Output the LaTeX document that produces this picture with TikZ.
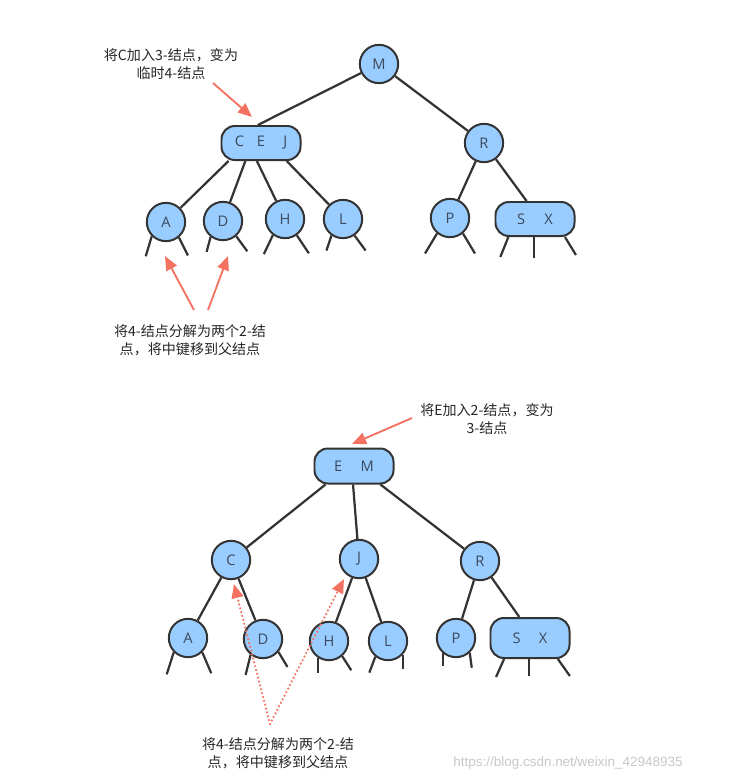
\documentclass[tikz,border=0pt]{standalone}
\usepackage{fontspec}
\setmainfont{Open Sans}
\newfontfamily\cjk{Noto Sans CJK SC}
\newfontfamily\wmfont{Liberation Sans}
\usetikzlibrary{arrows.meta}
\definecolor{keyfill}{HTML}{99CCFF}
\definecolor{keyline}{HTML}{333333}
\definecolor{keytext}{HTML}{3B4A5E}
\definecolor{note}{HTML}{F47262}

\begin{document}
\begin{tikzpicture}[x=0.03cm, y=-0.03cm,
    key/.style={draw=keyline, line width=1.7pt, fill=keyfill, circle, minimum size=1.15cm, inner sep=0pt, text=keytext, font=\fontsize{12.5}{14}\selectfont},
    keys/.style={key, rectangle, rounded corners=0.4cm, minimum width=2.37cm, minimum height=1.02cm},
    link/.style={draw=keyline, line width=1.9pt},
    remark/.style={align=center, text=black!85, font=\cjk\fontsize{12}{15.5}\selectfont},
    hint/.style={draw=note, line width=1.6pt, -{Triangle[length=12pt, width=10pt]}},
    hintdot/.style={hint, line cap=round, dash pattern=on 0pt off 3.4pt, line width=2.1pt}]
    \useasboundingbox (0,0) rectangle (739,777);

    % Top tree
    \node[key] at (379,64) (m1) {M};
    \node[keys] at (261,143) (cej) {C\hspace{11pt}E\hspace{15.5pt}J};
    \node[key] at (484,143) (r1) {R};
    \node[key] at (166,222) (a1) {A};
    \node[key] at (223,221) (d1) {D};
    \node[key] at (285,219) (h1) {H};
    \node[key] at (343,219) (l1) {L};
    \node[key] at (450,218) (p1) {P};
    \node[keys] at (535,219) (sx1) {S\hspace{16.5pt}X};

    % Bottom tree
    \node[keys, minimum height=1.05cm] at (354,466) (em2) {E\hspace{15.5pt}M};
    \node[key] at (231,560) (c2) {C};
    \node[key] at (359,559) (j2) {J};
    \node[key] at (480,561) (r2) {R};
    \node[key] at (188,638) (a2) {A};
    \node[key] at (263,639) (d2) {D};
    \node[key] at (329,641) (h2) {H};
    \node[key] at (388,641) (l2) {L};
    \node[key] at (456,638) (p2) {P};
    \node[keys, minimum height=1.2cm] at (530,638) (sx2) {S\hspace{15.5pt}X};

    % Edges
    \draw[link] (m1) -- (cej.100);
    \draw[link] (m1) -- (r1);
    \draw[link] (cej.209) -- (a1);
    \draw[link] (cej.229) -- (d1);
    \draw[link] (cej.257) -- (h1);
    \draw[link] (cej.325) -- (l1);
    \draw[link] (r1) -- (p1);
    \draw[link] (r1) -- (sx1.115);
    \draw[link] (em2.213) -- (c2);
    \draw[link] (em2.267) -- (j2);
    \draw[link] (em2.325) -- (r2);
    \draw[link] (c2) -- (a2);
    \draw[link] (c2) -- (d2);
    \draw[link] (j2) -- (h2);
    \draw[link] (j2) -- (l2);
    \draw[link] (r2) -- (p2);
    \draw[link] (r2) -- (sx2.117);

    % Empty subtrees
    \foreach \nd/\a/\dx/\dy in {a1/225/-6/20, a1/310/9/18, d1/232/-4/15, d1/311/11/15,
        h1/233/-9/19, h1/306/12/18, l1/235/-5/15, l1/305/11/15, p1/230/-12/20, p1/310/12/20,
        sx1/214/-8/20, sx1/267/0/21, sx1/329/11/18,
        a2/225/-7/22, a2/315/9/21, d2/232/-5/20, d2/320/9/15, h2/238/0/15, h2/311/9/14,
        l2/231/-6/16, l2/317/0/14, p2/229/0/13, p2/313/2/15,
        sx2/219/-8/18, sx2/267/0/17, sx2/323/12/17}
        \draw[link] (\nd.\a) -- ++(\dx,\dy);

    % Labels
    \node[remark] at (171,64) (tip1) {将C加入3-结点，变为\\临时4-结点};
    \node[remark] at (190,340) (tip2) {将4-结点分解为两个2-结\\点，将中键移到父结点};
    \node[remark] at (487,419) (tip3) {将E加入2-结点，变为\\3-结点};
    \node[remark] at (278,753) (tip4) {将4-结点分解为两个2-结\\点，将中键移到父结点};
    \node[font=\wmfont\fontsize{11.5}{13}\selectfont, text=black!22] at (568,763) (mark) {https://blog.csdn.net/weixin\_42948935};

    % Arrows
    \coordinate (t1s) at (213,83);
    \coordinate (t1e) at (252,117);
    \coordinate (t2s) at (194,310);
    \coordinate (t2a) at (165,256);
    \coordinate (t2t) at (208,310);
    \coordinate (t2b) at (228,256);
    \coordinate (t3s) at (412,418);
    \coordinate (t3e) at (352,444);
    \coordinate (t4s) at (270,724);
    \coordinate (t4a) at (234,584);
    \coordinate (t4b) at (344,579);
    \draw[hint] (t1s) -- (t1e);
    \draw[hint] (t2s) -- (t2a);
    \draw[hint] (t2t) -- (t2b);
    \draw[hint] (t3s) -- (t3e);
    \draw[hintdot] (t4s) -- (t4a);
    \draw[hintdot] (t4s) -- (t4b);
\end{tikzpicture}
\end{document}
